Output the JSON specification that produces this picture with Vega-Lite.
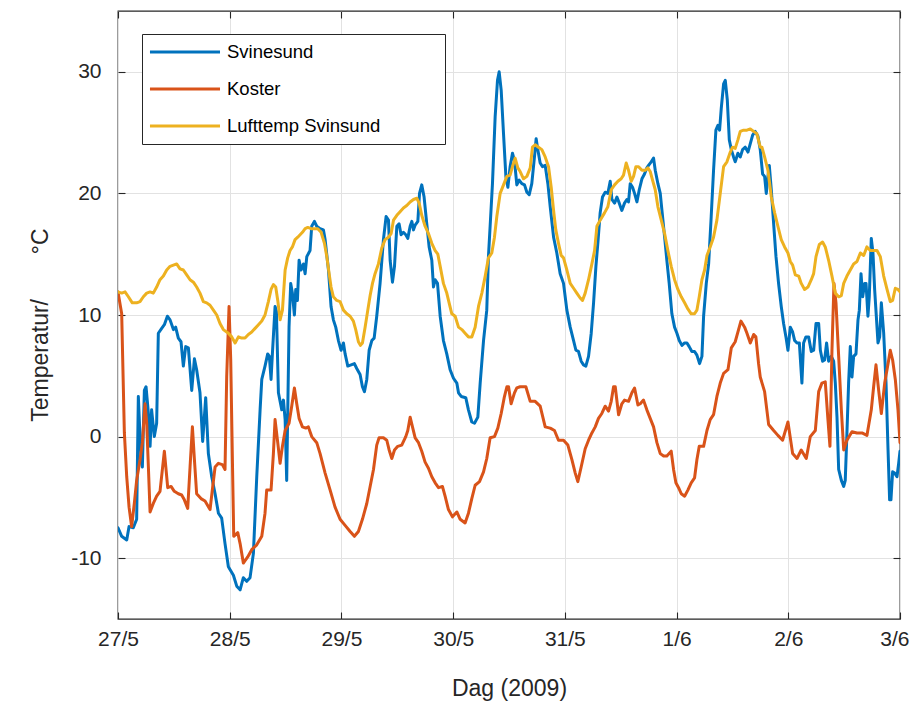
{
"$schema":"https://vega.github.io/schema/vega-lite/v6.json",
"autosize":{"type":"none"},
"width":782,"height":608,
"padding":{"left":118,"top":11,"right":10,"bottom":85},
"background":"white",
"datasets":{
"svinesund":[{"dag":0.000,"temp":-7.5},{"dag":0.033,"temp":-8.2},{"dag":0.078,"temp":-8.5},{"dag":0.099,"temp":-7.4},{"dag":0.137,"temp":-7.5},{"dag":0.167,"temp":-6.8},{"dag":0.182,"temp":3.3},{"dag":0.206,"temp":-1.9},{"dag":0.218,"temp":-2.5},{"dag":0.236,"temp":3.8},{"dag":0.251,"temp":4.1},{"dag":0.272,"temp":1.9},{"dag":0.287,"temp":-0.8},{"dag":0.301,"temp":2.2},{"dag":0.325,"temp":0.0},{"dag":0.346,"temp":1.1},{"dag":0.361,"temp":8.5},{"dag":0.391,"temp":8.9},{"dag":0.415,"temp":9.2},{"dag":0.442,"temp":9.9},{"dag":0.466,"temp":9.6},{"dag":0.496,"temp":8.8},{"dag":0.516,"temp":9.0},{"dag":0.540,"temp":8.1},{"dag":0.564,"temp":7.8},{"dag":0.585,"temp":5.8},{"dag":0.606,"temp":7.4},{"dag":0.630,"temp":7.3},{"dag":0.660,"temp":3.8},{"dag":0.684,"temp":6.4},{"dag":0.704,"temp":5.5},{"dag":0.734,"temp":3.6},{"dag":0.758,"temp":-0.4},{"dag":0.785,"temp":3.2},{"dag":0.809,"temp":-1.4},{"dag":0.839,"temp":-3.3},{"dag":0.869,"temp":-4.7},{"dag":0.899,"temp":-6.3},{"dag":0.928,"temp":-6.7},{"dag":0.958,"temp":-8.8},{"dag":0.988,"temp":-10.7},{"dag":1.033,"temp":-11.4},{"dag":1.063,"temp":-12.3},{"dag":1.093,"temp":-12.6},{"dag":1.122,"temp":-11.6},{"dag":1.152,"temp":-11.9},{"dag":1.182,"temp":-11.6},{"dag":1.212,"temp":-9.6},{"dag":1.242,"temp":-3.3},{"dag":1.272,"temp":2.2},{"dag":1.287,"temp":4.7},{"dag":1.316,"temp":5.8},{"dag":1.340,"temp":6.8},{"dag":1.355,"temp":6.6},{"dag":1.370,"temp":4.7},{"dag":1.382,"temp":6.8},{"dag":1.406,"temp":10.7},{"dag":1.418,"temp":10.3},{"dag":1.436,"temp":3.6},{"dag":1.466,"temp":2.2},{"dag":1.481,"temp":3.0},{"dag":1.496,"temp":1.4},{"dag":1.510,"temp":-3.6},{"dag":1.531,"temp":9.0},{"dag":1.546,"temp":12.6},{"dag":1.561,"temp":11.8},{"dag":1.579,"temp":10.0},{"dag":1.591,"temp":12.1},{"dag":1.606,"temp":11.2},{"dag":1.621,"temp":14.5},{"dag":1.639,"temp":13.7},{"dag":1.660,"temp":14.2},{"dag":1.675,"temp":13.4},{"dag":1.690,"temp":14.8},{"dag":1.719,"temp":15.3},{"dag":1.734,"temp":17.3},{"dag":1.758,"temp":17.7},{"dag":1.779,"temp":17.3},{"dag":1.809,"temp":17.1},{"dag":1.839,"temp":17.0},{"dag":1.854,"temp":16.2},{"dag":1.884,"temp":13.7},{"dag":1.907,"temp":10.7},{"dag":1.928,"temp":9.6},{"dag":1.949,"temp":9.0},{"dag":1.973,"temp":7.9},{"dag":1.997,"temp":7.1},{"dag":2.018,"temp":7.7},{"dag":2.033,"temp":6.8},{"dag":2.057,"temp":5.8},{"dag":2.087,"temp":5.9},{"dag":2.116,"temp":6.0},{"dag":2.137,"temp":5.6},{"dag":2.167,"temp":5.1},{"dag":2.188,"temp":4.1},{"dag":2.206,"temp":3.7},{"dag":2.227,"temp":4.7},{"dag":2.248,"temp":7.1},{"dag":2.272,"temp":7.9},{"dag":2.293,"temp":8.1},{"dag":2.316,"temp":9.9},{"dag":2.346,"temp":12.6},{"dag":2.376,"temp":16.2},{"dag":2.400,"temp":18.1},{"dag":2.421,"temp":17.8},{"dag":2.436,"temp":14.5},{"dag":2.457,"temp":12.7},{"dag":2.475,"temp":14.0},{"dag":2.496,"temp":17.3},{"dag":2.516,"temp":17.5},{"dag":2.534,"temp":16.6},{"dag":2.555,"temp":16.8},{"dag":2.576,"temp":16.6},{"dag":2.594,"temp":16.3},{"dag":2.615,"temp":17.3},{"dag":2.630,"temp":17.7},{"dag":2.645,"temp":17.0},{"dag":2.660,"temp":17.4},{"dag":2.684,"temp":17.7},{"dag":2.699,"temp":20.0},{"dag":2.719,"temp":20.7},{"dag":2.740,"temp":19.7},{"dag":2.764,"temp":17.5},{"dag":2.785,"temp":15.6},{"dag":2.809,"temp":14.5},{"dag":2.824,"temp":12.3},{"dag":2.839,"temp":12.9},{"dag":2.860,"temp":12.6},{"dag":2.884,"temp":9.9},{"dag":2.913,"temp":7.9},{"dag":2.943,"temp":6.8},{"dag":2.973,"temp":5.5},{"dag":3.003,"temp":4.8},{"dag":3.033,"temp":4.4},{"dag":3.048,"temp":3.6},{"dag":3.072,"temp":3.3},{"dag":3.113,"temp":3.2},{"dag":3.137,"temp":2.2},{"dag":3.167,"temp":1.2},{"dag":3.191,"temp":1.1},{"dag":3.221,"temp":1.6},{"dag":3.242,"temp":4.4},{"dag":3.272,"temp":7.9},{"dag":3.301,"temp":10.4},{"dag":3.316,"temp":14.8},{"dag":3.331,"temp":17.3},{"dag":3.352,"temp":20.8},{"dag":3.376,"temp":26.3},{"dag":3.397,"temp":29.3},{"dag":3.412,"temp":30.0},{"dag":3.430,"temp":28.5},{"dag":3.451,"temp":24.9},{"dag":3.472,"temp":21.4},{"dag":3.490,"temp":20.5},{"dag":3.510,"temp":22.2},{"dag":3.531,"temp":23.3},{"dag":3.549,"temp":22.7},{"dag":3.570,"temp":20.7},{"dag":3.591,"temp":21.1},{"dag":3.615,"temp":20.8},{"dag":3.639,"temp":20.7},{"dag":3.660,"temp":20.1},{"dag":3.681,"temp":19.9},{"dag":3.704,"temp":20.8},{"dag":3.728,"temp":23.0},{"dag":3.743,"temp":24.5},{"dag":3.758,"temp":23.6},{"dag":3.779,"temp":22.5},{"dag":3.800,"temp":22.2},{"dag":3.824,"temp":22.3},{"dag":3.848,"temp":20.8},{"dag":3.869,"temp":18.9},{"dag":3.899,"temp":16.4},{"dag":3.928,"temp":15.1},{"dag":3.958,"temp":13.4},{"dag":3.988,"temp":12.6},{"dag":4.018,"temp":10.4},{"dag":4.048,"temp":9.0},{"dag":4.078,"temp":7.9},{"dag":4.099,"temp":7.1},{"dag":4.122,"temp":7.0},{"dag":4.146,"temp":6.2},{"dag":4.167,"temp":5.9},{"dag":4.188,"temp":5.8},{"dag":4.212,"temp":6.6},{"dag":4.236,"temp":8.5},{"dag":4.257,"temp":11.0},{"dag":4.278,"temp":14.0},{"dag":4.296,"temp":16.0},{"dag":4.316,"temp":18.4},{"dag":4.337,"temp":19.7},{"dag":4.361,"temp":20.1},{"dag":4.385,"temp":20.0},{"dag":4.406,"temp":21.0},{"dag":4.421,"temp":19.5},{"dag":4.445,"temp":19.2},{"dag":4.466,"temp":19.7},{"dag":4.487,"temp":19.2},{"dag":4.510,"temp":18.6},{"dag":4.534,"temp":19.2},{"dag":4.555,"temp":19.5},{"dag":4.570,"temp":19.3},{"dag":4.585,"temp":20.8},{"dag":4.606,"temp":20.5},{"dag":4.624,"temp":20.0},{"dag":4.645,"temp":19.3},{"dag":4.666,"temp":20.3},{"dag":4.690,"temp":21.2},{"dag":4.713,"temp":21.6},{"dag":4.734,"temp":22.1},{"dag":4.749,"temp":22.3},{"dag":4.773,"temp":22.6},{"dag":4.794,"temp":22.9},{"dag":4.809,"temp":21.9},{"dag":4.833,"temp":20.8},{"dag":4.854,"temp":20.0},{"dag":4.869,"temp":18.6},{"dag":4.893,"temp":16.4},{"dag":4.913,"temp":14.5},{"dag":4.934,"temp":12.6},{"dag":4.958,"temp":10.1},{"dag":4.982,"temp":9.0},{"dag":5.003,"temp":8.5},{"dag":5.024,"temp":7.9},{"dag":5.048,"temp":7.5},{"dag":5.072,"temp":7.7},{"dag":5.093,"temp":7.7},{"dag":5.113,"temp":7.4},{"dag":5.137,"temp":7.0},{"dag":5.161,"temp":7.0},{"dag":5.182,"temp":6.7},{"dag":5.206,"temp":6.0},{"dag":5.227,"temp":6.6},{"dag":5.242,"temp":9.9},{"dag":5.266,"temp":12.6},{"dag":5.287,"temp":14.2},{"dag":5.310,"temp":18.1},{"dag":5.331,"temp":21.9},{"dag":5.352,"temp":25.2},{"dag":5.370,"temp":25.6},{"dag":5.385,"temp":25.2},{"dag":5.400,"temp":27.0},{"dag":5.421,"temp":29.0},{"dag":5.436,"temp":29.3},{"dag":5.454,"temp":27.7},{"dag":5.472,"temp":24.4},{"dag":5.490,"temp":23.6},{"dag":5.510,"temp":23.0},{"dag":5.525,"temp":22.6},{"dag":5.549,"temp":23.3},{"dag":5.570,"temp":23.0},{"dag":5.591,"temp":23.6},{"dag":5.615,"temp":23.8},{"dag":5.639,"temp":23.4},{"dag":5.660,"temp":24.1},{"dag":5.681,"temp":24.8},{"dag":5.704,"temp":25.1},{"dag":5.728,"temp":24.7},{"dag":5.749,"temp":23.6},{"dag":5.770,"temp":21.6},{"dag":5.788,"temp":21.4},{"dag":5.803,"temp":20.0},{"dag":5.818,"temp":21.4},{"dag":5.830,"temp":22.3},{"dag":5.848,"temp":20.3},{"dag":5.869,"temp":17.5},{"dag":5.890,"temp":14.8},{"dag":5.913,"temp":12.6},{"dag":5.937,"temp":10.7},{"dag":5.958,"temp":9.3},{"dag":5.979,"temp":8.2},{"dag":5.997,"temp":7.1},{"dag":6.018,"temp":9.0},{"dag":6.039,"temp":8.6},{"dag":6.057,"temp":7.9},{"dag":6.078,"temp":7.7},{"dag":6.099,"temp":7.7},{"dag":6.122,"temp":4.4},{"dag":6.137,"temp":7.7},{"dag":6.158,"temp":8.2},{"dag":6.182,"temp":8.2},{"dag":6.206,"temp":7.0},{"dag":6.227,"temp":7.1},{"dag":6.248,"temp":9.3},{"dag":6.272,"temp":9.3},{"dag":6.287,"temp":7.1},{"dag":6.307,"temp":6.2},{"dag":6.325,"temp":6.3},{"dag":6.343,"temp":7.7},{"dag":6.361,"temp":6.2},{"dag":6.385,"temp":6.6},{"dag":6.406,"temp":6.2},{"dag":6.421,"temp":4.4},{"dag":6.436,"temp":1.6},{"dag":6.451,"temp":-2.7},{"dag":6.475,"temp":-3.6},{"dag":6.496,"temp":-4.1},{"dag":6.510,"temp":-3.6},{"dag":6.525,"temp":0.3},{"dag":6.540,"temp":4.4},{"dag":6.555,"temp":7.4},{"dag":6.570,"temp":4.9},{"dag":6.585,"temp":6.6},{"dag":6.606,"temp":6.8},{"dag":6.624,"temp":9.6},{"dag":6.636,"temp":10.4},{"dag":6.651,"temp":13.4},{"dag":6.666,"temp":11.5},{"dag":6.684,"temp":12.6},{"dag":6.696,"temp":12.6},{"dag":6.713,"temp":9.9},{"dag":6.725,"temp":11.5},{"dag":6.743,"temp":16.3},{"dag":6.758,"temp":15.1},{"dag":6.773,"temp":12.1},{"dag":6.788,"temp":9.9},{"dag":6.803,"temp":7.7},{"dag":6.818,"temp":8.2},{"dag":6.833,"temp":11.0},{"dag":6.854,"temp":8.5},{"dag":6.875,"temp":4.4},{"dag":6.893,"temp":-1.1},{"dag":6.907,"temp":-5.2},{"dag":6.919,"temp":-5.2},{"dag":6.934,"temp":-2.9},{"dag":6.952,"temp":-3.0},{"dag":6.973,"temp":-3.3},{"dag":6.988,"temp":-2.2},{"dag":7.000,"temp":-1.2}],
"koster":[{"dag":0.000,"temp":11.9},{"dag":0.033,"temp":10.1},{"dag":0.057,"temp":0.3},{"dag":0.078,"temp":-3.3},{"dag":0.099,"temp":-5.8},{"dag":0.122,"temp":-7.4},{"dag":0.146,"temp":-5.5},{"dag":0.167,"temp":-3.6},{"dag":0.197,"temp":-1.9},{"dag":0.218,"temp":-0.5},{"dag":0.242,"temp":2.7},{"dag":0.257,"temp":1.1},{"dag":0.272,"temp":-2.5},{"dag":0.287,"temp":-6.2},{"dag":0.316,"temp":-5.5},{"dag":0.346,"temp":-4.9},{"dag":0.376,"temp":-4.5},{"dag":0.415,"temp":-1.2},{"dag":0.445,"temp":-4.2},{"dag":0.475,"temp":-4.1},{"dag":0.504,"temp":-4.5},{"dag":0.540,"temp":-4.7},{"dag":0.570,"temp":-4.8},{"dag":0.594,"temp":-5.2},{"dag":0.624,"temp":-5.9},{"dag":0.645,"temp":-2.5},{"dag":0.666,"temp":0.8},{"dag":0.684,"temp":-1.9},{"dag":0.704,"temp":-4.7},{"dag":0.743,"temp":-5.1},{"dag":0.779,"temp":-5.3},{"dag":0.824,"temp":-6.0},{"dag":0.848,"temp":-4.1},{"dag":0.869,"temp":-2.5},{"dag":0.899,"temp":-2.2},{"dag":0.934,"temp":-2.3},{"dag":0.958,"temp":-2.7},{"dag":0.973,"temp":4.9},{"dag":0.994,"temp":10.7},{"dag":1.009,"temp":6.3},{"dag":1.024,"temp":-1.9},{"dag":1.036,"temp":-8.2},{"dag":1.072,"temp":-7.9},{"dag":1.093,"temp":-8.8},{"dag":1.122,"temp":-10.4},{"dag":1.161,"temp":-9.9},{"dag":1.197,"temp":-9.3},{"dag":1.242,"temp":-8.9},{"dag":1.287,"temp":-8.2},{"dag":1.316,"temp":-6.3},{"dag":1.331,"temp":-4.4},{"dag":1.370,"temp":-4.4},{"dag":1.391,"temp":-1.4},{"dag":1.406,"temp":1.4},{"dag":1.430,"temp":-0.5},{"dag":1.451,"temp":-2.2},{"dag":1.472,"temp":-0.8},{"dag":1.496,"temp":0.5},{"dag":1.531,"temp":1.1},{"dag":1.555,"temp":2.5},{"dag":1.579,"temp":4.0},{"dag":1.600,"temp":2.7},{"dag":1.621,"temp":1.5},{"dag":1.651,"temp":0.8},{"dag":1.681,"temp":0.7},{"dag":1.704,"temp":0.8},{"dag":1.734,"temp":0.0},{"dag":1.779,"temp":-0.5},{"dag":1.809,"temp":-1.4},{"dag":1.854,"temp":-3.0},{"dag":1.899,"temp":-4.4},{"dag":1.943,"temp":-5.8},{"dag":1.988,"temp":-6.8},{"dag":2.033,"temp":-7.3},{"dag":2.078,"temp":-7.8},{"dag":2.116,"temp":-8.2},{"dag":2.152,"temp":-7.8},{"dag":2.188,"temp":-6.8},{"dag":2.227,"temp":-5.5},{"dag":2.257,"temp":-4.1},{"dag":2.287,"temp":-2.7},{"dag":2.316,"temp":-0.7},{"dag":2.337,"temp":-0.1},{"dag":2.376,"temp":-0.1},{"dag":2.406,"temp":-0.3},{"dag":2.427,"temp":-1.1},{"dag":2.451,"temp":-1.8},{"dag":2.475,"temp":-1.1},{"dag":2.504,"temp":-0.8},{"dag":2.540,"temp":-0.7},{"dag":2.576,"temp":0.0},{"dag":2.594,"temp":0.5},{"dag":2.615,"temp":1.6},{"dag":2.636,"temp":0.8},{"dag":2.660,"temp":-0.1},{"dag":2.690,"temp":-0.5},{"dag":2.719,"temp":-1.2},{"dag":2.749,"temp":-2.1},{"dag":2.779,"temp":-2.6},{"dag":2.809,"temp":-3.3},{"dag":2.839,"temp":-3.8},{"dag":2.869,"temp":-4.2},{"dag":2.904,"temp":-4.1},{"dag":2.928,"temp":-4.9},{"dag":2.958,"temp":-6.0},{"dag":2.994,"temp":-6.6},{"dag":3.033,"temp":-6.2},{"dag":3.063,"temp":-6.8},{"dag":3.107,"temp":-7.1},{"dag":3.137,"temp":-6.3},{"dag":3.167,"temp":-5.1},{"dag":3.197,"temp":-4.0},{"dag":3.236,"temp":-3.7},{"dag":3.272,"temp":-2.9},{"dag":3.301,"temp":-1.8},{"dag":3.331,"temp":-0.1},{"dag":3.370,"temp":0.0},{"dag":3.400,"temp":0.7},{"dag":3.430,"temp":1.9},{"dag":3.457,"temp":3.2},{"dag":3.481,"temp":4.1},{"dag":3.496,"temp":4.1},{"dag":3.519,"temp":2.7},{"dag":3.549,"temp":3.6},{"dag":3.570,"temp":4.0},{"dag":3.600,"temp":4.1},{"dag":3.651,"temp":4.1},{"dag":3.690,"temp":2.9},{"dag":3.734,"temp":2.9},{"dag":3.779,"temp":2.5},{"dag":3.824,"temp":0.8},{"dag":3.869,"temp":0.7},{"dag":3.907,"temp":0.5},{"dag":3.943,"temp":-0.3},{"dag":3.988,"temp":-0.3},{"dag":4.027,"temp":-0.7},{"dag":4.063,"temp":-1.9},{"dag":4.093,"temp":-3.0},{"dag":4.116,"temp":-3.7},{"dag":4.146,"temp":-2.5},{"dag":4.182,"temp":-1.0},{"dag":4.212,"temp":-0.3},{"dag":4.242,"temp":0.3},{"dag":4.272,"temp":0.8},{"dag":4.301,"temp":1.5},{"dag":4.331,"temp":1.9},{"dag":4.361,"temp":2.5},{"dag":4.391,"temp":2.1},{"dag":4.415,"temp":2.9},{"dag":4.436,"temp":4.1},{"dag":4.451,"temp":4.1},{"dag":4.481,"temp":1.8},{"dag":4.510,"temp":2.7},{"dag":4.534,"temp":3.0},{"dag":4.570,"temp":2.9},{"dag":4.600,"temp":3.6},{"dag":4.624,"temp":4.0},{"dag":4.654,"temp":2.6},{"dag":4.675,"temp":2.7},{"dag":4.704,"temp":3.0},{"dag":4.734,"temp":2.2},{"dag":4.764,"temp":1.5},{"dag":4.794,"temp":0.8},{"dag":4.824,"temp":-0.5},{"dag":4.854,"temp":-1.4},{"dag":4.884,"temp":-1.6},{"dag":4.913,"temp":-1.6},{"dag":4.952,"temp":-1.2},{"dag":4.973,"temp":-2.7},{"dag":4.994,"temp":-3.8},{"dag":5.018,"temp":-4.2},{"dag":5.042,"temp":-4.7},{"dag":5.072,"temp":-4.9},{"dag":5.101,"temp":-4.4},{"dag":5.131,"temp":-3.8},{"dag":5.161,"temp":-3.4},{"dag":5.182,"temp":-1.9},{"dag":5.203,"temp":-0.8},{"dag":5.242,"temp":-0.8},{"dag":5.272,"temp":0.5},{"dag":5.301,"temp":1.4},{"dag":5.331,"temp":1.8},{"dag":5.361,"temp":3.3},{"dag":5.391,"temp":4.4},{"dag":5.421,"temp":5.2},{"dag":5.460,"temp":5.5},{"dag":5.490,"temp":7.3},{"dag":5.525,"temp":7.8},{"dag":5.555,"temp":8.8},{"dag":5.576,"temp":9.5},{"dag":5.609,"temp":9.0},{"dag":5.630,"temp":8.5},{"dag":5.660,"temp":7.7},{"dag":5.690,"temp":8.4},{"dag":5.710,"temp":8.2},{"dag":5.734,"temp":6.0},{"dag":5.749,"temp":4.9},{"dag":5.788,"temp":3.7},{"dag":5.824,"temp":1.0},{"dag":5.869,"temp":0.5},{"dag":5.907,"temp":0.1},{"dag":5.949,"temp":-0.3},{"dag":5.997,"temp":1.2},{"dag":6.039,"temp":-1.4},{"dag":6.078,"temp":-1.8},{"dag":6.116,"temp":-1.1},{"dag":6.161,"temp":-1.8},{"dag":6.197,"temp":0.0},{"dag":6.242,"temp":0.5},{"dag":6.272,"temp":3.7},{"dag":6.301,"temp":4.4},{"dag":6.331,"temp":4.5},{"dag":6.355,"temp":1.4},{"dag":6.373,"temp":-0.8},{"dag":6.391,"temp":7.1},{"dag":6.409,"temp":12.6},{"dag":6.427,"temp":11.0},{"dag":6.451,"temp":6.6},{"dag":6.475,"temp":2.2},{"dag":6.496,"temp":-1.1},{"dag":6.525,"temp":-0.3},{"dag":6.570,"temp":0.4},{"dag":6.615,"temp":0.3},{"dag":6.660,"temp":0.3},{"dag":6.704,"temp":0.1},{"dag":6.743,"temp":2.2},{"dag":6.764,"temp":4.1},{"dag":6.785,"temp":5.9},{"dag":6.809,"temp":3.8},{"dag":6.833,"temp":1.9},{"dag":6.863,"temp":4.4},{"dag":6.893,"temp":6.0},{"dag":6.913,"temp":7.1},{"dag":6.934,"temp":6.3},{"dag":6.958,"temp":4.7},{"dag":6.982,"temp":2.2},{"dag":7.000,"temp":-0.5}],
"luft":[{"dag":0.000,"temp":11.9},{"dag":0.033,"temp":11.8},{"dag":0.063,"temp":11.9},{"dag":0.093,"temp":11.5},{"dag":0.128,"temp":11.0},{"dag":0.167,"temp":11.0},{"dag":0.197,"temp":11.1},{"dag":0.227,"temp":11.5},{"dag":0.257,"temp":11.8},{"dag":0.287,"temp":11.9},{"dag":0.316,"temp":11.8},{"dag":0.346,"temp":12.3},{"dag":0.376,"temp":12.9},{"dag":0.406,"temp":13.2},{"dag":0.436,"temp":13.7},{"dag":0.466,"temp":14.0},{"dag":0.496,"temp":14.1},{"dag":0.525,"temp":14.2},{"dag":0.555,"temp":13.8},{"dag":0.585,"temp":13.7},{"dag":0.615,"temp":13.3},{"dag":0.645,"temp":12.9},{"dag":0.675,"temp":12.7},{"dag":0.704,"temp":12.3},{"dag":0.734,"temp":11.8},{"dag":0.764,"temp":11.1},{"dag":0.794,"temp":11.0},{"dag":0.824,"temp":10.8},{"dag":0.854,"temp":10.4},{"dag":0.884,"temp":10.0},{"dag":0.913,"temp":9.3},{"dag":0.943,"temp":8.8},{"dag":0.988,"temp":8.5},{"dag":1.018,"temp":8.2},{"dag":1.048,"temp":7.7},{"dag":1.078,"temp":8.2},{"dag":1.107,"temp":8.1},{"dag":1.137,"temp":8.1},{"dag":1.167,"temp":8.4},{"dag":1.197,"temp":8.6},{"dag":1.227,"temp":8.9},{"dag":1.257,"temp":9.2},{"dag":1.287,"temp":9.5},{"dag":1.316,"temp":10.0},{"dag":1.346,"temp":11.1},{"dag":1.370,"temp":12.1},{"dag":1.391,"temp":12.5},{"dag":1.412,"temp":12.3},{"dag":1.430,"temp":11.2},{"dag":1.451,"temp":9.6},{"dag":1.472,"temp":10.4},{"dag":1.496,"temp":13.7},{"dag":1.519,"temp":14.7},{"dag":1.540,"temp":15.3},{"dag":1.561,"temp":15.6},{"dag":1.585,"temp":16.2},{"dag":1.609,"temp":16.4},{"dag":1.630,"temp":16.6},{"dag":1.651,"temp":16.8},{"dag":1.675,"temp":17.1},{"dag":1.699,"temp":17.2},{"dag":1.728,"temp":17.1},{"dag":1.758,"temp":17.1},{"dag":1.788,"temp":17.1},{"dag":1.818,"temp":16.8},{"dag":1.848,"temp":15.9},{"dag":1.869,"temp":14.8},{"dag":1.890,"temp":13.4},{"dag":1.907,"temp":12.3},{"dag":1.928,"temp":11.5},{"dag":1.958,"temp":11.2},{"dag":1.988,"temp":11.1},{"dag":2.018,"temp":10.4},{"dag":2.048,"temp":10.1},{"dag":2.078,"temp":9.9},{"dag":2.107,"temp":9.5},{"dag":2.128,"temp":8.8},{"dag":2.152,"temp":7.8},{"dag":2.170,"temp":7.5},{"dag":2.188,"temp":7.7},{"dag":2.212,"temp":9.0},{"dag":2.236,"temp":10.4},{"dag":2.257,"temp":11.6},{"dag":2.278,"temp":12.6},{"dag":2.301,"temp":13.4},{"dag":2.331,"temp":14.2},{"dag":2.361,"temp":15.5},{"dag":2.391,"temp":16.2},{"dag":2.421,"temp":16.4},{"dag":2.445,"temp":16.7},{"dag":2.466,"temp":17.8},{"dag":2.496,"temp":18.2},{"dag":2.525,"temp":18.5},{"dag":2.555,"temp":18.8},{"dag":2.585,"temp":19.0},{"dag":2.615,"temp":19.3},{"dag":2.645,"temp":19.5},{"dag":2.675,"temp":19.6},{"dag":2.696,"temp":19.2},{"dag":2.719,"temp":18.2},{"dag":2.749,"temp":17.3},{"dag":2.779,"temp":16.7},{"dag":2.809,"temp":15.9},{"dag":2.839,"temp":15.3},{"dag":2.863,"temp":15.0},{"dag":2.884,"temp":14.0},{"dag":2.913,"temp":12.6},{"dag":2.943,"temp":11.8},{"dag":2.964,"temp":11.0},{"dag":2.988,"temp":10.1},{"dag":3.018,"temp":9.9},{"dag":3.048,"temp":9.0},{"dag":3.078,"temp":8.8},{"dag":3.107,"temp":8.5},{"dag":3.137,"temp":8.2},{"dag":3.167,"temp":8.2},{"dag":3.197,"temp":9.0},{"dag":3.227,"temp":10.7},{"dag":3.257,"temp":11.8},{"dag":3.287,"temp":13.2},{"dag":3.316,"temp":14.7},{"dag":3.346,"temp":15.1},{"dag":3.370,"temp":16.4},{"dag":3.391,"temp":18.1},{"dag":3.421,"temp":20.0},{"dag":3.451,"temp":20.7},{"dag":3.481,"temp":21.4},{"dag":3.510,"temp":21.5},{"dag":3.534,"temp":22.3},{"dag":3.555,"temp":22.9},{"dag":3.579,"temp":22.1},{"dag":3.600,"temp":21.8},{"dag":3.630,"temp":21.2},{"dag":3.660,"temp":21.4},{"dag":3.690,"temp":22.1},{"dag":3.710,"temp":23.8},{"dag":3.734,"temp":24.0},{"dag":3.764,"temp":23.8},{"dag":3.794,"temp":23.6},{"dag":3.824,"temp":23.0},{"dag":3.854,"temp":22.2},{"dag":3.878,"temp":20.5},{"dag":3.899,"temp":18.6},{"dag":3.919,"temp":17.0},{"dag":3.943,"temp":15.9},{"dag":3.967,"temp":14.9},{"dag":3.988,"temp":14.7},{"dag":4.018,"temp":13.7},{"dag":4.048,"temp":12.6},{"dag":4.078,"temp":12.2},{"dag":4.107,"temp":11.8},{"dag":4.137,"temp":11.4},{"dag":4.158,"temp":11.2},{"dag":4.182,"temp":11.8},{"dag":4.212,"temp":12.9},{"dag":4.242,"temp":14.2},{"dag":4.266,"temp":15.3},{"dag":4.287,"temp":17.3},{"dag":4.316,"temp":17.8},{"dag":4.355,"temp":18.4},{"dag":4.385,"temp":18.9},{"dag":4.415,"temp":20.3},{"dag":4.445,"temp":20.7},{"dag":4.475,"temp":21.0},{"dag":4.504,"temp":21.2},{"dag":4.525,"temp":21.5},{"dag":4.549,"temp":22.5},{"dag":4.570,"temp":21.9},{"dag":4.594,"temp":21.0},{"dag":4.615,"temp":21.4},{"dag":4.636,"temp":22.2},{"dag":4.660,"temp":22.2},{"dag":4.690,"temp":21.9},{"dag":4.719,"temp":21.9},{"dag":4.743,"temp":22.1},{"dag":4.764,"temp":21.8},{"dag":4.785,"temp":21.1},{"dag":4.809,"temp":20.3},{"dag":4.833,"temp":18.9},{"dag":4.863,"temp":17.8},{"dag":4.893,"temp":16.7},{"dag":4.922,"temp":15.3},{"dag":4.952,"temp":14.0},{"dag":4.982,"temp":12.9},{"dag":5.012,"temp":12.1},{"dag":5.042,"temp":11.5},{"dag":5.072,"temp":11.0},{"dag":5.101,"temp":10.5},{"dag":5.131,"temp":10.1},{"dag":5.161,"temp":10.1},{"dag":5.182,"temp":10.4},{"dag":5.203,"temp":11.5},{"dag":5.227,"temp":12.9},{"dag":5.251,"temp":13.7},{"dag":5.272,"temp":14.9},{"dag":5.301,"temp":15.6},{"dag":5.331,"temp":16.4},{"dag":5.361,"temp":17.8},{"dag":5.391,"temp":20.0},{"dag":5.421,"temp":22.2},{"dag":5.451,"temp":22.6},{"dag":5.481,"temp":23.4},{"dag":5.501,"temp":23.8},{"dag":5.525,"temp":23.7},{"dag":5.549,"temp":24.4},{"dag":5.570,"temp":25.1},{"dag":5.600,"temp":25.2},{"dag":5.630,"temp":25.2},{"dag":5.660,"temp":25.3},{"dag":5.690,"temp":25.1},{"dag":5.719,"temp":24.9},{"dag":5.749,"temp":23.8},{"dag":5.764,"temp":23.8},{"dag":5.788,"temp":23.0},{"dag":5.818,"temp":21.9},{"dag":5.848,"temp":19.7},{"dag":5.878,"temp":18.4},{"dag":5.907,"temp":17.3},{"dag":5.937,"temp":16.2},{"dag":5.967,"temp":15.6},{"dag":5.997,"temp":15.1},{"dag":6.018,"temp":14.4},{"dag":6.039,"temp":14.1},{"dag":6.063,"temp":13.3},{"dag":6.093,"temp":13.2},{"dag":6.116,"temp":12.6},{"dag":6.146,"temp":12.1},{"dag":6.176,"temp":12.3},{"dag":6.206,"temp":12.9},{"dag":6.227,"temp":13.4},{"dag":6.248,"temp":14.8},{"dag":6.278,"temp":15.8},{"dag":6.307,"temp":16.0},{"dag":6.331,"temp":15.6},{"dag":6.361,"temp":14.5},{"dag":6.391,"temp":13.2},{"dag":6.421,"temp":11.8},{"dag":6.451,"temp":11.5},{"dag":6.475,"temp":11.6},{"dag":6.496,"temp":12.6},{"dag":6.525,"temp":13.2},{"dag":6.555,"temp":13.7},{"dag":6.585,"temp":14.2},{"dag":6.615,"temp":14.4},{"dag":6.645,"temp":15.1},{"dag":6.675,"temp":14.9},{"dag":6.704,"temp":15.6},{"dag":6.734,"temp":15.3},{"dag":6.764,"temp":15.3},{"dag":6.794,"temp":15.3},{"dag":6.824,"temp":14.8},{"dag":6.854,"temp":13.2},{"dag":6.884,"temp":12.1},{"dag":6.913,"temp":11.1},{"dag":6.934,"temp":11.2},{"dag":6.958,"temp":12.2},{"dag":6.982,"temp":12.1},{"dag":7.000,"temp":11.9}]
},
"layer":[
{"layer":[
{"data":{"name":"svinesund"},
"mark":{"type":"line","strokeWidth":3,"strokeJoin":"round","strokeCap":"round","clip":true},
"encoding":{
"x":{"field":"dag","type":"quantitative","scale":{"domain":[0,7],"nice":false,"zero":false},
"axis":{"orient":"bottom","values":[0,1,2,3,4,5,6,7],"labelExpr":"['27/5','28/5','29/5','30/5','31/5','1/6','2/6','3/6'][datum.value]","labelFlush":false,"labelAlign":{"condition":{"test":"datum.value == 7","value":"right"},"value":"center"},"labelOffset":{"condition":{"test":"datum.value == 7","value":9},"value":0},"labelPadding":16,"title":"Dag (2009)","titlePadding":28}},
"y":{"field":"temp","type":"quantitative","scale":{"domain":[-15,35],"nice":false,"zero":false},
"axis":{"orient":"left","values":[-10,0,10,20,30],"labelExpr":"'' + datum.value","labelPadding":24,"title":"Temperatur/\u00a0\u00a0\u00a0\u00a0\u00a0\u00a0\u00a0°C\u00a0\u00a0\u00a0\u200b","titlePadding":18}},
"color":{"datum":"Svinesund","type":"nominal","scale":{"domain":["Svinesund","Koster","Lufttemp Svinsund\u2800\u2800\u2800\u2800"],"range":["#0072BD","#D95319","#EDB120"]},
"legend":{"orient":"none","legendX":24,"legendY":23,"title":null}}
}},
{"data":{"name":"koster"},
"mark":{"type":"line","strokeWidth":3,"strokeJoin":"round","strokeCap":"round","clip":true},
"encoding":{"x":{"field":"dag","type":"quantitative"},"y":{"field":"temp","type":"quantitative"},"color":{"datum":"Koster","type":"nominal"}}},
{"data":{"name":"luft"},
"mark":{"type":"line","strokeWidth":3,"strokeJoin":"round","strokeCap":"round","clip":true},
"encoding":{"x":{"field":"dag","type":"quantitative"},"y":{"field":"temp","type":"quantitative"},"color":{"datum":"Lufttemp Svinsund\u2800\u2800\u2800\u2800","type":"nominal"}}}
]},
{"data":{"name":"svinesund"},
"mark":{"type":"line","strokeOpacity":0},
"encoding":{
"x":{"field":"dag","type":"quantitative","axis":{"orient":"top","values":[0,1,2,3,4,5,6,7],"labels":false,"grid":false,"title":null}},
"y":{"field":"temp","type":"quantitative","axis":{"orient":"right","values":[-10,0,10,20,30],"labels":false,"grid":false,"title":null}}
}}
],
"resolve":{"axis":{"x":"independent","y":"independent"}},
"config":{
"font":"Liberation Sans",
"view":{"stroke":"#262626","strokeWidth":1.3},
"axis":{"domain":false,"grid":true,"gridColor":"#e2e2e2","gridWidth":1,"tickColor":"#262626","tickSize":-7,"tickWidth":1.1,"labelFont":"Liberation Sans","labelFontSize":21,"labelColor":"#262626","titleFont":"Liberation Sans","titleFontSize":23,"titleFontWeight":"normal","titleColor":"#262626"},
"legend":{"padding":8,"rowPadding":17,"strokeColor":"#262626","fillColor":"#ffffff","symbolType":"M-1.18,0H7.06","symbolSize":289,"symbolStrokeWidth":3,"labelOffset":57,"labelFont":"Liberation Sans","labelFontSize":18.5,"labelColor":"#000000","labelLimit":400}
}
}
